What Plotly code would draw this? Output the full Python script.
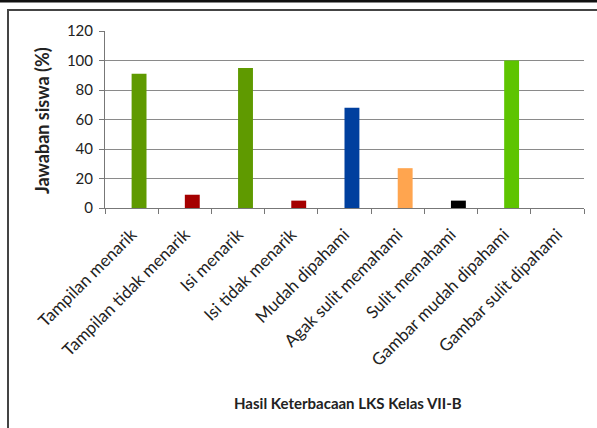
import plotly.graph_objects as go

# Survey categories and response percentages
categories = [
    "Tampilan menarik", "Tampilan tidak menarik", "Isi menarik",
    "Isi tidak menarik", "Mudah dipahami", "Agak sulit memahami",
    "Sulit memahami", "Gambar mudah dipahami", "Gambar sulit dipahami",
]
values = [91, 9, 95, 5, 68, 27, 5, 100, 0]
bar_colors = ["#5f9a00", "#a50000", "#5f9a00", "#a50000", "#003f9e",
              "#ffa54f", "#000000", "#5ec400", "#5ec400"]
y_ticks = [0, 20, 40, 60, 80, 100, 120]

W, H = 597, 428
L, R, T, B = 105, 13, 31, 220
pw, ph = W - L - R, H - T - B


def px_x(x):
    return (x - L) / pw


def px_y(y):
    return (H - B - y) / ph


# bars sit to the right of each category centre (second slot of a pair)
fig = go.Figure(go.Bar(
    x=categories, y=values,
    marker=dict(color=bar_colors, line=dict(width=0)),
    width=0.28, offset=0,
))

font = "Lato, 'Liberation Sans', sans-serif"

fig.update_layout(
    width=W, height=H,
    margin=dict(l=L, r=R, t=T, b=B),
    paper_bgcolor="white", plot_bgcolor="white",
    showlegend=False,
    font=dict(family=font, color="#222"),
    xaxis=dict(
        tickangle=-45, tickfont=dict(size=17, color="#222"),
        ticks="outside", tickson="boundaries", ticklen=5, tickcolor="#777",
        ticklabelstandoff=9,
        showline=True, linecolor="#777", linewidth=1,
        showgrid=False, range=[-0.5, 8.5],
    ),
    yaxis=dict(
        range=[0, 120], tickvals=y_ticks,
        tickfont=dict(size=15, color="#222"),
        ticks="outside", ticklen=5, tickcolor="#777",
        ticklabelstandoff=3,
        showline=True, linecolor="#777", linewidth=1,
        showgrid=True, gridcolor="#8a8a8a", gridwidth=1,
        zeroline=False,
    ),
    shapes=[
        # chart frame
        dict(type="rect", xref="paper", yref="paper",
             x0=px_x(8), x1=px_x(600), y0=px_y(10), y1=px_y(440),
             line=dict(color="#444", width=2), layer="below"),
        # heavy rule across the top
        dict(type="line", xref="paper", yref="paper",
             x0=px_x(-5), x1=px_x(605), y0=px_y(1), y1=px_y(1),
             line=dict(color="#111", width=3)),
    ],
    annotations=[
        dict(text="<b>Jawaban siswa (%)</b>", textangle=-90,
             xref="paper", yref="paper", x=px_x(42), y=px_y(121),
             showarrow=False, font=dict(size=18, color="#222"),
             xanchor="center", yanchor="middle"),
        dict(text="<b>Hasil Keterbacaan LKS Kelas VII-B</b>",
             xref="paper", yref="paper", x=px_x(348), y=px_y(403),
             showarrow=False, font=dict(size=15, color="#222"),
             xanchor="center", yanchor="middle"),
    ],
)

fig.write_html("out.html")
